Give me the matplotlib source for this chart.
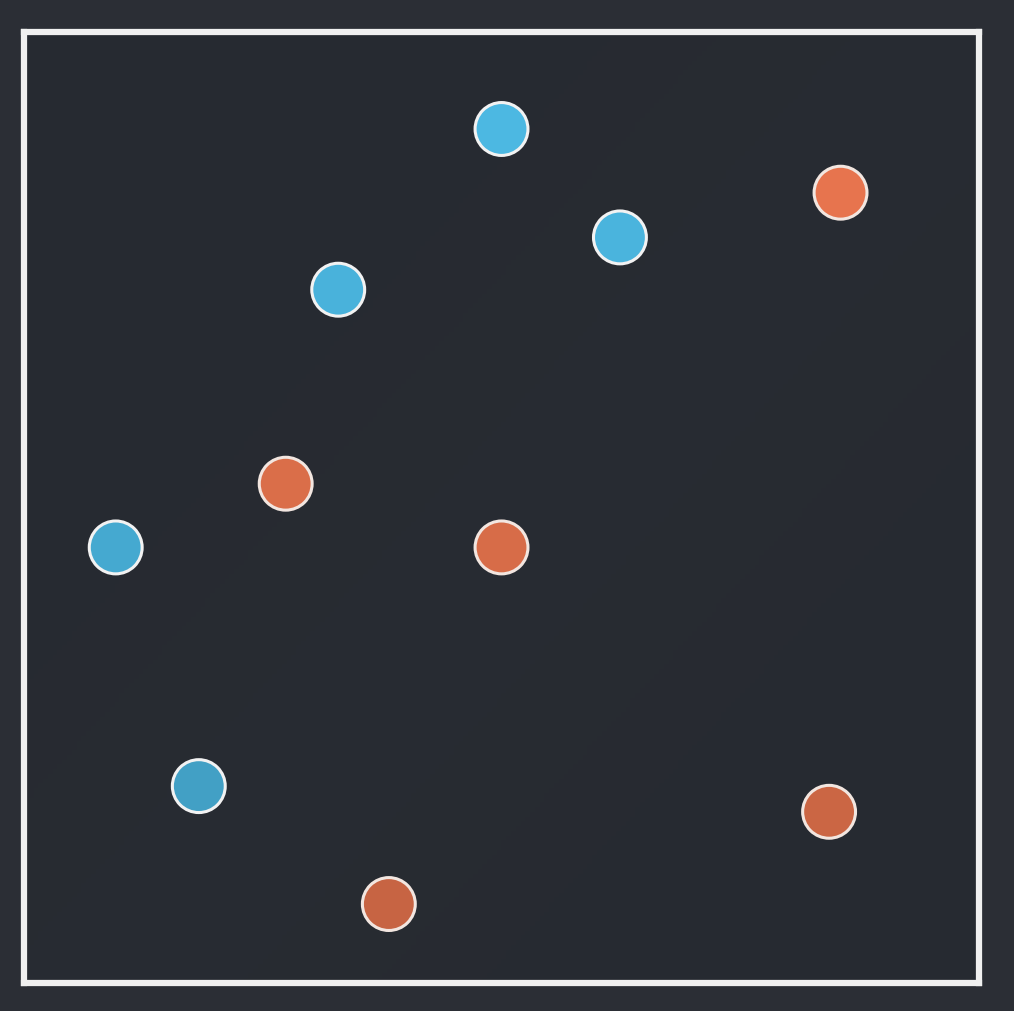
import matplotlib.pyplot as plt
import numpy as np

# two classes of points, axes run 0..10 on both sides
blue_x = [5.00, 6.24, 3.29, 0.96, 1.83]
blue_y = [8.98, 7.84, 7.29, 4.58, 2.07]
orange_x = [8.55, 2.74, 5.00, 8.43, 3.82]
orange_y = [8.31, 5.25, 4.58, 1.80, 0.83]


def shade(base, ys):
    # points look a bit darker near the bottom of the frame
    base = np.array(plt.matplotlib.colors.to_rgb(base))
    return [tuple(base * (0.82 + 0.18 * y / 10)) for y in ys]


def main():
    fig = plt.figure(figsize=(10.14, 10.12), dpi=100)
    fig.patch.set_facecolor("#2b2e35")
    ax = fig.add_axes([0.0237, 0.0277, 0.9418, 0.9397])
    ax.set_facecolor("#262a31")

    # faint diagonal lighting in the background
    gx, gy = np.meshgrid(np.linspace(0, 1, 200), np.linspace(0, 1, 200))
    glow = np.exp(-((gx - gy * 0.9 - 0.1) ** 2) / 0.08)
    ax.imshow(glow, extent=[0, 10, 0, 10], origin="lower", cmap="gray",
              vmin=-3, vmax=12, alpha=0.07, aspect="auto", zorder=0)

    ax.scatter(blue_x, blue_y, s=1450, c=shade("#4dbbe6", blue_y),
               edgecolors="#f2f2f2", linewidths=2.2, zorder=3)
    ax.scatter(orange_x, orange_y, s=1450, c=shade("#ee7850", orange_y),
               edgecolors="#f2e6e0", linewidths=2.2, zorder=3)

    ax.set_xlim(0, 10)
    ax.set_ylim(0, 10)
    ax.set_xticks([])
    ax.set_yticks([])
    for sp in ax.spines.values():
        sp.set_color("#f0f0f0")
        sp.set_linewidth(4.5)

    fig.savefig("out.png", dpi=100, facecolor=fig.get_facecolor())


if __name__ == "__main__":
    main()
